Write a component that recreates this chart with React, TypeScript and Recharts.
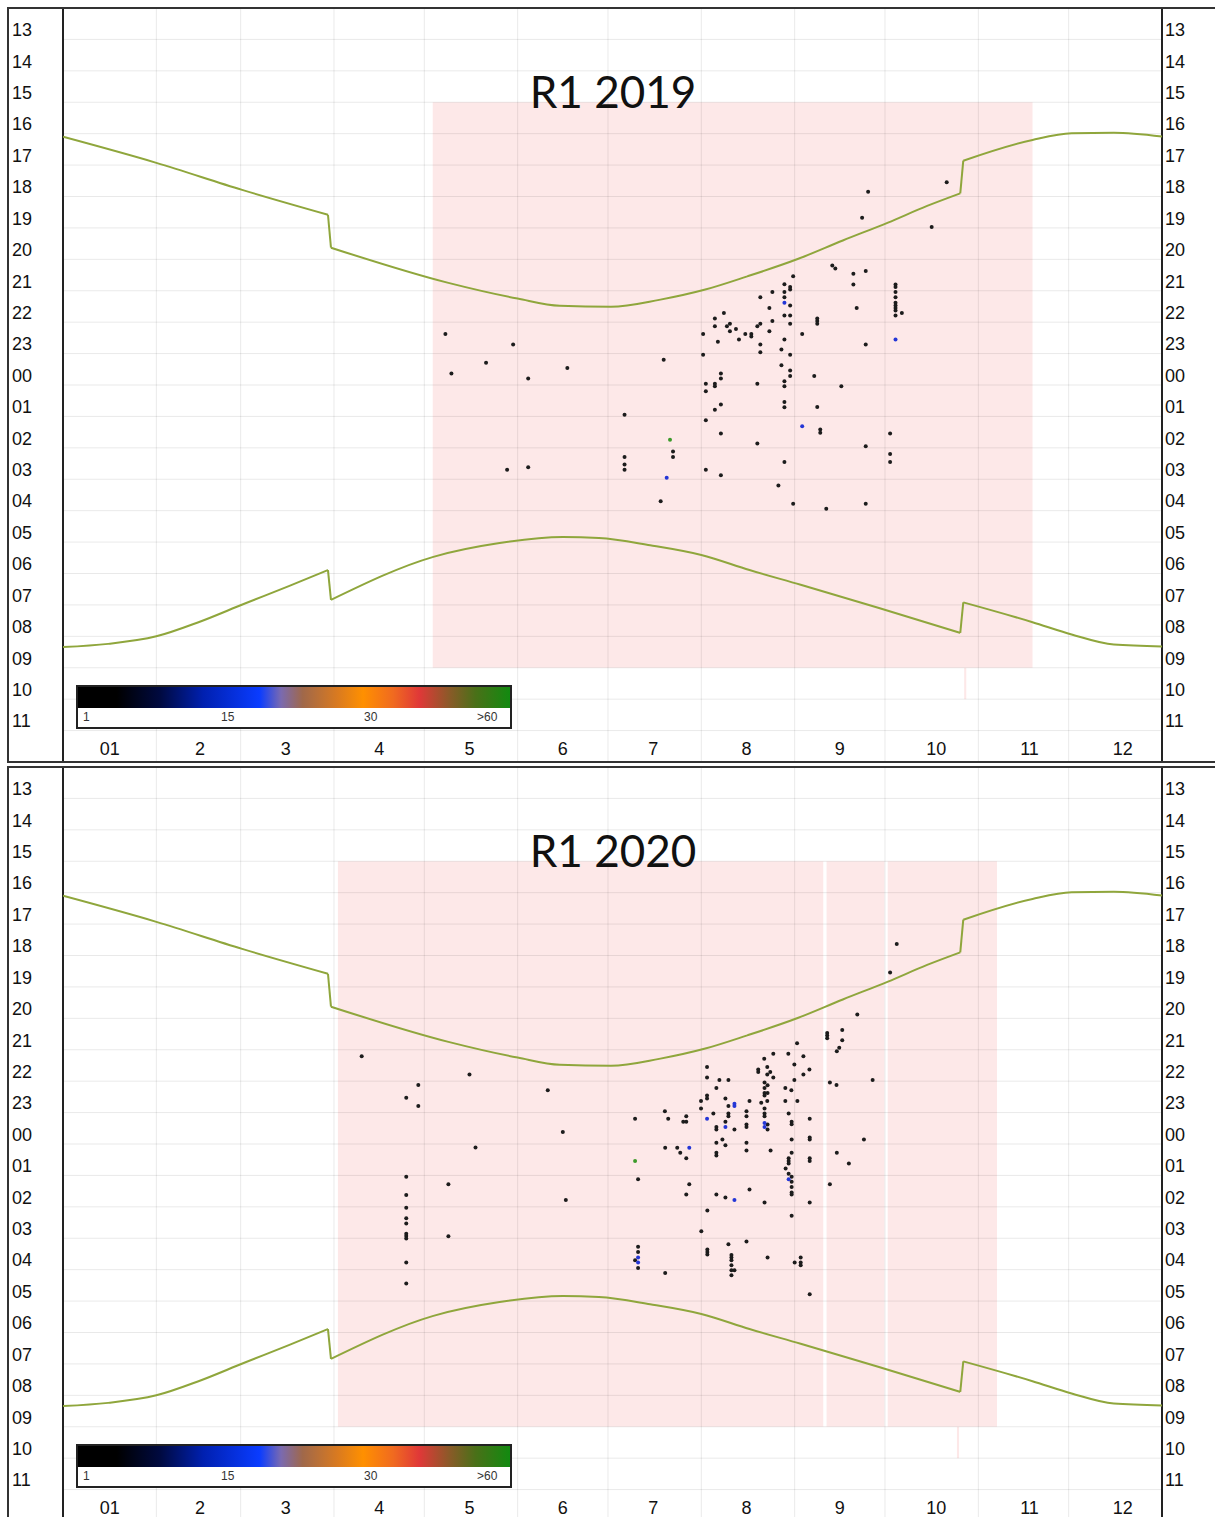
import React from 'react';
import { ComposedChart, Line, Scatter, XAxis, YAxis, ReferenceArea, ReferenceLine } from 'recharts';

// y values are hours after 13:00 (0 = 13:00, 11 = 00:00, 23 = 12:00)
const hourLabels = ['13', '14', '15', '16', '17', '18', '19', '20', '21', '22', '23', '00', '01', '02', '03', '04', '05', '06', '07', '08', '09', '10', '11'];
const hourTicks = hourLabels.map((_, i) => i + 0.5);
const hourLines = [1, 2, 3, 4, 5, 6, 7, 8, 9, 10, 11, 12, 13, 14, 15, 16, 17, 18, 19, 20, 21, 22, 23];

// x values are day of year
const monthLabels = ['01', '2', '3', '4', '5', '6', '7', '8', '9', '10', '11', '12'];
const monthTicks = [15.5, 45.5, 74, 105, 135, 166, 196, 227, 258, 290, 321, 352];
const monthStarts = [31, 59, 90, 120, 151, 181, 212, 243, 273, 304, 334];

// sunset / sunrise, split at the daylight saving jumps
const sunsetWinter = [[0, 4.1], [31, 4.93], [59.5, 5.79], [88, 6.58]];
const sunsetSummer = [[89, 7.63], [128, 8.75], [151, 9.25], [165, 9.48], [182, 9.51], [198, 9.29], [213, 8.97], [227, 8.55], [244, 7.99], [259, 7.4], [274, 6.83], [287, 6.3], [298, 5.9]];
const sunsetAutumn = [[299, 4.86], [322, 4.2], [335, 3.99], [349, 3.97], [365, 4.09]];
const sunriseWinter = [[0, 20.34], [15, 20.24], [31, 20.0], [45, 19.55], [60, 18.97], [75, 18.4], [88, 17.89]];
const sunriseSummer = [[89, 18.84], [123, 17.47], [145, 17.03], [166, 16.84], [178, 16.87], [195, 17.1], [212, 17.41], [228, 17.89], [245, 18.36], [271, 19.1], [298, 19.89]];
const sunriseAutumn = [[299, 18.92], [322, 19.55], [335, 19.94], [349, 20.26], [365, 20.32]];

// recording periods
const recHours = [3, 21];
const rec2019 = [122.8, 322];
const rec2020 = [91.3, 310.2];
const gaps2020 = [[252.5, 253.6], [272.8, 273.9]];
const stub2019 = [299.3, 300];
const stub2020 = [296.9, 297.6];

// passes per night: [day, hours after 13:00]
const dark2019 = [
  [127, 10.38], [129, 11.63], [140.5, 11.29], [149.5, 10.71], [154.5, 11.79], [167.5, 11.46], [147.5, 14.7], [154.5, 14.62],
  [199.5, 11.2], [186.5, 12.95], [186.5, 14.29], [186.5, 14.53], [186.5, 14.7], [202.6, 14.12], [202.6, 14.29], [198.5, 15.7],
  [212.6, 10.38], [212.6, 11.04], [216.5, 9.88], [216.5, 10.13], [219.5, 9.71], [220.5, 10.13], [221.5, 10.05], [221.5, 10.29],
  [223.5, 10.22], [217.5, 10.62], [224.5, 10.55], [226.6, 10.38], [228.6, 10.38], [228.6, 10.46], [230.6, 10.13], [231.6, 10.05],
  [231.6, 9.21], [234.6, 9.55], [235.6, 9.04], [235.6, 9.96], [234.6, 10.29], [231.6, 10.71], [231.6, 10.96],
  [239.6, 8.79], [239.6, 9.04], [239.6, 9.21], [241.5, 8.88], [241.5, 8.96], [242.5, 8.54], [241.5, 9.47], [239.6, 9.79],
  [241.5, 9.79], [241.5, 10.05], [239.6, 10.55], [238.6, 10.87], [241.5, 11.04], [238.6, 11.37], [241.5, 11.54], [241.5, 11.71],
  [239.6, 11.88], [239.6, 12.04], [245.5, 10.38], [250.5, 9.88], [250.5, 9.96], [250.5, 10.05], [249.5, 11.71], [258.5, 12.04],
  [255.5, 8.2], [256.5, 8.29], [262.5, 8.46], [266.6, 8.37], [262.5, 8.8], [263.6, 9.55], [266.6, 10.71],
  [276.5, 8.8], [276.5, 8.88], [276.5, 9.04], [276.5, 9.21], [276.5, 9.38], [276.5, 9.47], [276.5, 9.55], [276.5, 9.63],
  [276.5, 9.79], [278.6, 9.71], [213.5, 11.96], [213.5, 12.2], [216.5, 11.96], [216.5, 12.04], [218.5, 11.63], [218.5, 11.79],
  [218.5, 12.62], [216.5, 12.79], [213.5, 13.12], [218.5, 13.54], [213.5, 14.7], [218.5, 14.87], [230.6, 11.96], [230.6, 13.86],
  [239.6, 12.54], [239.6, 12.71], [239.6, 14.45], [237.6, 15.2], [242.5, 15.78], [253.5, 15.94], [266.6, 15.78], [250.5, 12.7],
  [251.5, 13.42], [251.5, 13.52], [266.6, 13.95], [274.7, 13.54], [274.7, 14.2], [274.7, 14.45],
  [267.4, 5.85], [265.4, 6.68], [293.5, 5.55], [288.5, 6.97],
];
const blue2019 = [[200.5, 14.95], [239.6, 9.38], [276.5, 10.55], [245.5, 13.31]];
const green2019 = [[201.6, 13.74]];

const dark2020 = [
  [99.2, 9.21], [135, 9.79], [118, 10.12], [114, 10.53], [118, 10.79], [161, 10.29], [166, 11.62], [137, 12.11],
  [114, 13.04], [128, 13.28], [114, 13.62], [114, 14.03], [114, 14.36], [114, 14.53], [114, 14.86], [114, 14.93],
  [114, 15.01], [128, 14.94], [167, 13.78], [114, 15.77], [114, 16.44],
  [276.9, 5.63], [274.7, 6.54], [263.8, 7.88], [258.8, 8.37], [253.8, 8.47], [253.8, 8.55], [253.8, 8.63], [258.8, 8.7],
  [243.8, 8.79], [257.8, 8.94], [257, 9.05],
  [235.9, 9.13], [240.9, 9.13], [245.9, 9.21], [232.9, 9.29], [242.9, 9.47], [247.9, 9.63], [245.9, 9.79], [230.9, 9.63],
  [230.9, 9.71], [233.9, 9.55], [234.9, 9.71], [233.9, 9.79], [235.9, 9.88],
  [213.9, 9.55], [213.9, 9.88], [218, 9.96], [221, 9.96], [217, 10.22], [213.9, 10.46], [213.9, 10.55], [211.9, 10.63],
  [211.9, 10.87], [220, 10.55], [221, 10.79], [228, 10.63], [233, 10.04], [233, 10.22], [234, 10.13], [233, 10.38],
  [234, 10.38], [233, 10.46], [231.9, 10.69], [233.9, 10.63], [239.9, 10.22], [241.9, 10.29], [242.9, 9.96], [239.9, 10.63],
  [243.9, 10.63], [254.7, 10.04], [256.9, 10.12], [268.9, 9.96],
  [199.9, 10.96], [190, 11.2], [201, 11.2], [207, 11.12], [206, 11.29], [207, 11.29], [216, 11.03], [221, 11.03],
  [221, 11.12], [220, 11.29], [217, 11.46], [217, 11.54], [223, 11.54], [227, 10.96], [227, 11.12], [227, 11.38],
  [227, 11.46], [233, 10.87], [233, 11.03], [233, 11.12], [234, 11.38], [234, 11.54], [241, 11.03], [242, 11.29],
  [242, 11.37], [248, 11.2], [200, 12.12], [204, 12.12], [205, 12.28], [207, 12.45], [191, 13.12], [217, 11.96],
  [219, 11.86], [220, 12.04], [217, 12.28], [217, 12.37], [227, 11.96], [227, 12.21], [235, 12.21], [242, 11.86],
  [242, 12.28], [248, 11.79], [248, 11.86], [241, 12.45], [241, 12.54], [241, 12.62], [240, 12.78], [241, 12.95],
  [242, 13.04], [242, 13.2], [242, 13.37], [242, 13.54], [242, 13.61], [248, 12.45], [248, 12.54], [257, 12.28],
  [261, 12.62], [266, 11.86], [254.7, 13.28], [208, 13.28], [207, 13.61], [217, 13.61], [220, 13.7], [228, 13.45],
  [233, 13.86], [248, 13.86], [214, 14.12], [242, 14.28], [212, 14.78], [221, 15.19], [227, 15.1], [214, 15.36],
  [214, 15.44], [214, 15.52], [222, 15.53], [222, 15.61], [222, 15.7], [222, 15.86], [222, 16.02], [223, 16.02],
  [222, 16.18], [234, 15.61], [243, 15.77], [245, 15.61], [245, 15.77], [245, 15.86], [248, 16.78], [191, 15.27],
  [191, 15.44], [190, 15.7], [191, 15.95], [200, 16.11],
];
const blue2020 = [[223, 10.72], [223, 10.79], [213.9, 11.2], [220, 11.46], [233, 11.33], [233, 11.46], [208, 12.12], [241, 13.12], [223, 13.78], [191, 15.61], [191, 15.77]];
const green2020 = [[190, 12.54]];

const toPoints = (rows: number[][]) => rows.map(([d, t]) => ({ d, t }));

const CURVE = '#8fa63c';
const PINK = '#fde8e8';
const FONT = '"Liberation Sans", Arial, sans-serif';

const HourTickLeft = (props: any) => {
  const label = hourLabels[hourTicks.indexOf(props.payload.value)];
  return (
    <text x={4} y={props.y + 12.5} fontSize={18} fontFamily={FONT} fill="#111" textAnchor="start">
      {label}
    </text>
  );
};

const HourTickRight = (props: any) => {
  const label = hourLabels[hourTicks.indexOf(props.payload.value)];
  return (
    <text x={1157} y={props.y + 12.5} fontSize={18} fontFamily={FONT} fill="#111" textAnchor="start">
      {label}
    </text>
  );
};

// month labels sit inside the bottom hour row of the plot
const MonthTick = (props: any) => {
  const label = monthLabels[monthTicks.indexOf(props.payload.value)];
  return (
    <text x={props.x} y={747} fontSize={18} fontFamily={FONT} fill="#111" textAnchor="middle">
      {label}
    </text>
  );
};

const dotShape = (color: string) => (props: any) => (
  <circle cx={props.cx} cy={props.cy} r={2} fill={color} />
);

const ColorBar = ({ top }: { top: number }) => (
  <div
    style={{
      position: 'absolute', left: 76, top, width: 436, height: 44, boxSizing: 'border-box',
      border: '2px solid #222', background: '#fff',
    }}
  >
    <div
      style={{
        height: 21,
        background:
          'linear-gradient(to right, #000 0%, #000 9%, #000a40 19%, #0020b0 29%, #0a3cff 42%, #7a6ab0 47%, #a0684a 52%, #d97a20 60%, #ff9000 66%, #f06a20 73%, #e03838 79%, #8a5a28 86%, #4a7018 92%, #128a10 100%)',
      }}
    />
    <div style={{ position: 'relative', height: 19, fontFamily: FONT, fontSize: 12, color: '#333' }}>
      <span style={{ position: 'absolute', left: 5, top: 2 }}>1</span>
      <span style={{ position: 'absolute', left: 143, top: 2 }}>15</span>
      <span style={{ position: 'absolute', left: 286, top: 2 }}>30</span>
      <span style={{ position: 'absolute', left: 399, top: 2 }}>&gt;60</span>
    </div>
  </div>
);

const curveSegments = [
  [sunsetWinter, sunsetSummer, sunsetAutumn],
  [sunriseWinter, sunriseSummer, sunriseAutumn],
];

type PanelProps = {
  title: string;
  top: number;
  rec: number[];
  gaps: number[][];
  stub: number[];
  dark: number[][];
  blue: number[][];
  green: number[][];
};

const Panel = ({ title, top, rec, gaps, stub, dark, blue, green }: PanelProps) => (
  <>
    <div style={{ position: 'absolute', left: 8, top }}>
      <ComposedChart width={1212} height={784} margin={{ top: 0, right: 0, bottom: 0, left: 0 }}>
        <XAxis
          dataKey="d"
          type="number"
          domain={[0, 365]}
          ticks={monthTicks}
          interval={0}
          height={30}
          axisLine={false}
          tickLine={false}
          tick={<MonthTick />}
          allowDataOverflow
        />
        <YAxis
          yAxisId="L"
          dataKey="t"
          type="number"
          domain={[0, 24]}
          reversed
          ticks={hourTicks}
          interval={0}
          width={55}
          axisLine={false}
          tickLine={false}
          tick={<HourTickLeft />}
          allowDataOverflow
        />
        <YAxis
          yAxisId="R"
          orientation="right"
          type="number"
          domain={[0, 24]}
          reversed
          ticks={hourTicks}
          interval={0}
          width={58}
          axisLine={false}
          tickLine={false}
          tick={<HourTickRight />}
          allowDataOverflow
        />
        <ReferenceArea yAxisId="L" x1={rec[0]} x2={rec[1]} y1={recHours[0]} y2={recHours[1]} fill={PINK} fillOpacity={1} stroke="none" />
        {gaps.map((g, i) => (
          <ReferenceArea key={`g${i}`} yAxisId="L" x1={g[0]} x2={g[1]} y1={recHours[0]} y2={recHours[1]} fill="#fff" fillOpacity={1} stroke="none" />
        ))}
        <ReferenceArea yAxisId="L" x1={stub[0]} x2={stub[1]} y1={recHours[1]} y2={recHours[1] + 1} fill={PINK} fillOpacity={1} stroke="none" />
        {hourLines.map((v) => (
          <ReferenceLine key={`h${v}`} yAxisId="L" y={v} stroke="#000" strokeOpacity={0.085} strokeWidth={1} />
        ))}
        {monthStarts.map((v) => (
          <ReferenceLine key={`m${v}`} yAxisId="L" x={v} stroke="#000" strokeOpacity={0.085} strokeWidth={1} />
        ))}
        <ReferenceLine yAxisId="L" x={0} stroke="#222" strokeWidth={2} />
        <ReferenceLine yAxisId="L" x={365} stroke="#222" strokeWidth={2} />
        {curveSegments.map((segs, ci) =>
          segs.map((seg, si) => (
            <Line
              key={`c${ci}${si}`}
              yAxisId="L"
              data={toPoints(seg)}
              dataKey="t"
              type="monotone"
              stroke={CURVE}
              strokeWidth={2}
              dot={false}
              isAnimationActive={false}
            />
          ))
        )}
        {curveSegments.map((segs, ci) =>
          [0, 1].map((si) => (
            <Line
              key={`j${ci}${si}`}
              yAxisId="L"
              data={toPoints([segs[si][segs[si].length - 1], segs[si + 1][0]])}
              dataKey="t"
              type="linear"
              stroke={CURVE}
              strokeWidth={2}
              dot={false}
              isAnimationActive={false}
            />
          ))
        )}
        <Scatter yAxisId="L" data={toPoints(dark)} dataKey="t" shape={dotShape('#1c1c1c')} isAnimationActive={false} />
        <Scatter yAxisId="L" data={toPoints(blue)} dataKey="t" shape={dotShape('#2436d6')} isAnimationActive={false} />
        <Scatter yAxisId="L" data={toPoints(green)} dataKey="t" shape={dotShape('#3c9a2a')} isAnimationActive={false} />
      </ComposedChart>
    </div>
    <div
      style={{
        position: 'absolute', left: 7, top: top - 1, width: 1300, height: 756, boxSizing: 'border-box',
        border: '2px solid #333', pointerEvents: 'none',
      }}
    />
    <div
      style={{
        position: 'absolute', left: 413, top: top + 61, width: 400, textAlign: 'center',
        fontFamily: 'Lato, "Open Sans", sans-serif', fontSize: 44, lineHeight: '44px', color: '#111',
      }}
    >
      {title}
    </div>
    <ColorBar top={top + 677} />
  </>
);

export default function App() {
  return (
    <div style={{ position: 'relative', width: 1215, height: 1517, overflow: 'hidden', background: '#fff' }}>
      <style>{'body{margin:0}'}</style>
      <Panel title="R1 2019" top={8} rec={rec2019} gaps={[]} stub={stub2019} dark={dark2019} blue={blue2019} green={green2019} />
      <Panel title="R1 2020" top={767} rec={rec2020} gaps={gaps2020} stub={stub2020} dark={dark2020} blue={blue2020} green={green2020} />
    </div>
  );
}
